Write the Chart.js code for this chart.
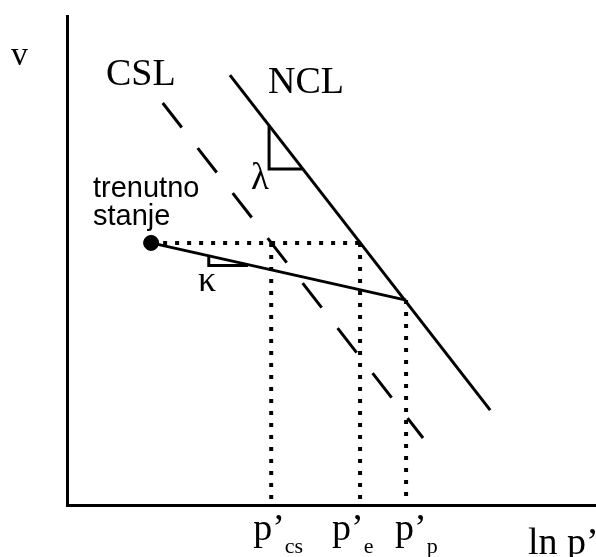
<!DOCTYPE html>
<html>
<head>
<meta charset="utf-8">
<script src="https://cdn.jsdelivr.net/npm/chart.js@4"></script>
<style>
  body { margin: 0; background: #fff; }
  canvas { display: block; }
</style>
</head>
<body>
<canvas id="stateChart" width="596" height="557"></canvas>
<script>
    // schematic axes: ln p' (x) and v (y), arbitrary units
    const xRange = [0, 10];
    const yRange = [0, 10];

    // normal compression line and critical state line (parallel)
    const nclX = [3.08, 8.0];
    const nclY = [8.79, 1.94];
    const cslX = [1.81, 6.73];
    const cslY = [8.22, 1.37];

    // current state, unloading/reloading (kappa) line up to the NCL
    const stateX = [1.59, 6.41];
    const stateY = [5.36, 4.19];

    // slope triangles
    const lambdaX = [3.82, 3.82, 4.46];
    const lambdaY = [7.76, 6.87, 6.87];
    const kappaX = [2.68, 2.68, 3.42];
    const kappaY = [5.09, 4.90, 4.90];

    // pressures on the ln p' axis
    const pressureValues = [3.86, 5.54, 6.41];
    const pressureTops = [5.36, 5.36, 4.19];
    const pressureNames = ['cs', 'e', 'p'];

    const toPoints = (xs, ys) => xs.map((x, i) => ({ x: x, y: ys[i] }));

    const dotted = { borderColor: '#000', borderWidth: 4, borderDash: [4, 8], borderCapStyle: 'butt', pointRadius: 0, showLine: true, fill: false };
    const solid = { borderColor: '#000', borderWidth: 3, pointRadius: 0, showLine: true, fill: false };

    const dottedSets = [
      { data: [{ x: stateX[0], y: stateY[0] }, { x: pressureValues[1], y: stateY[0] }] }
    ];
    pressureValues.forEach((p, i) => {
      dottedSets.push({ data: [{ x: p, y: pressureTops[i] }, { x: p, y: 0 }] });
    });

    const serif = size => size + 'px "Liberation Serif", "Times New Roman", serif';
    const sans = size => size + 'px "Liberation Sans", Arial, sans-serif';

    // where each tick label starts, relative to its tick
    const tickLabelShift = [-18, -28, -11];

    const labelsPlugin = {
      id: 'labels',
      afterDraw(chart) {
        const ctx = chart.ctx;
        const xs = chart.scales.x;
        ctx.save();
        ctx.fillStyle = '#000';
        ctx.textBaseline = 'alphabetic';
        ctx.textAlign = 'left';

        ctx.font = serif(34);
        ctx.fillText('v', 11, 65);
        ctx.font = serif(38);
        ctx.fillText('CSL', 106, 85);
        ctx.fillText('NCL', 268, 93);
        ctx.font = serif(37);
        ctx.fillText('λ', 251, 189);
        ctx.font = serif(36);
        ctx.fillText('κ', 198, 291);

        ctx.font = sans(29);
        ctx.fillText('trenutno', 93, 197);
        ctx.fillText('stanje', 93, 225);

        // tick labels with subscripts
        pressureValues.forEach((p, i) => {
          const left = xs.getPixelForValue(p) + tickLabelShift[i];
          ctx.font = serif(38);
          const w1 = ctx.measureText('p’').width;
          ctx.fillText('p’', left, 540);
          ctx.font = serif(22);
          ctx.fillText(pressureNames[i], left + w1, 553);
        });

        ctx.font = serif(38);
        ctx.fillText('ln p’', 528, 554);
        ctx.restore();
      }
    };

    const ctx = document.getElementById('stateChart').getContext('2d');
    const stateChart = new Chart(ctx, {
      type: 'scatter',
      data: {
        datasets: [
          Object.assign({ label: 'NCL', data: toPoints(nclX, nclY) }, solid),
          Object.assign({ label: 'CSL', data: toPoints(cslX, cslY) }, solid, { borderDash: [31, 26] }),
          Object.assign({ label: 'kappa', data: toPoints(stateX, stateY) }, solid),
          Object.assign({ label: 'lambda tri', data: toPoints(lambdaX, lambdaY) }, solid),
          Object.assign({ label: 'kappa tri', data: toPoints(kappaX, kappaY) }, solid),
          ...dottedSets.map(d => Object.assign(d, dotted)),
          {
            label: 'trenutno stanje',
            data: [{ x: stateX[0], y: stateY[0] }],
            pointRadius: 7.5,
            backgroundColor: '#000',
            borderColor: '#000',
            showLine: false
          }
        ]
      },
      options: {
        responsive: false,
        animation: false,
        layout: { autoPadding: false, padding: { left: 67, top: 16, right: 0, bottom: 52 } },
        plugins: {
          legend: { display: false },
          tooltip: { enabled: false }
        },
        scales: {
          x: {
            type: 'linear', min: xRange[0], max: xRange[1],
            grid: { display: false, drawTicks: false },
            ticks: { display: false },
            border: { display: true, color: '#000', width: 3 }
          },
          y: {
            type: 'linear', min: yRange[0], max: yRange[1],
            grid: { display: false, drawTicks: false },
            ticks: { display: false },
            border: { display: true, color: '#000', width: 3 }
          }
        }
      },
      plugins: [labelsPlugin]
    });
</script>
</body>
</html>
